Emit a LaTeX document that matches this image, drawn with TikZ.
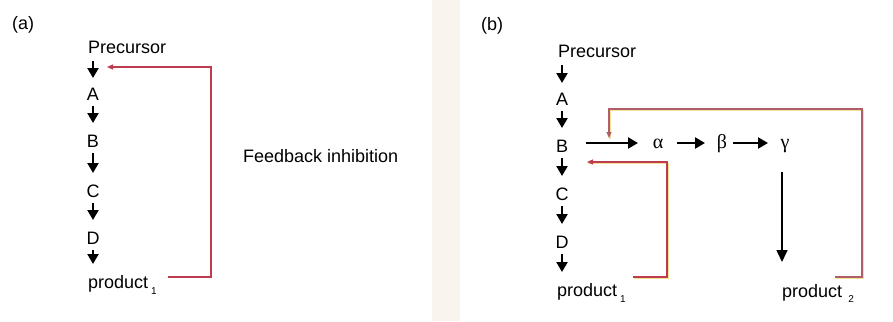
\documentclass[tikz,border=0pt]{standalone}
\usepackage{fontspec}
\setmainfont{Liberation Sans}
\newfontfamily\grkfont{Liberation Serif}
\usetikzlibrary{arrows.meta}
\definecolor{fbred}{RGB}{190,60,80}
\definecolor{fbmauve}{RGB}{175,95,105}
\definecolor{fbyel}{RGB}{242,226,150}
\definecolor{bandcol}{RGB}{249,245,238}
\begin{document}
\begin{tikzpicture}[x=1pt,y=-1pt,
  every node/.style={inner sep=0pt, font=\fontsize{18}{20}\selectfont},
  lbl/.style={anchor=base},
  lblw/.style={anchor=base west},
  grk/.style={anchor=base, font=\grkfont\fontsize{20}{20}\selectfont},
  arr/.style={line width=2.2pt, -{Triangle[length=10pt,width=11pt]}},
  arrlong/.style={line width=1.6pt, -{Triangle[length=12pt,width=11pt]}},
  inh/.style={line width=1.2pt, draw=fbred, -{Triangle[length=6pt,width=5pt]}},
  inhb/.style={line width=1.2pt, draw=fbmauve, -{Triangle[length=6pt,width=5pt]}},
  undr/.style={line width=1.1pt, draw=fbyel, transform canvas={shift={(1pt,-1.3pt)}}}]
\useasboundingbox (0,0) rectangle (893,321);
\fill[white] (0,0) rectangle (893,321);
\fill[bandcol] (432,0) rectangle (460,321);

% ---------- panel (a) ----------
\node[lblw] (la) at (12,30) {(a)};
\node[lblw] (Pa) at (88,53) {Precursor};
\node[lbl] (Aa) at (93,100) {A};
\node[lbl] (Ba) at (93,147) {B};
\node[lbl] (Ca) at (93,197) {C};
\node[lbl] (Da) at (93,244) {D};
\node[lblw] (Ra) at (88,288) {product\kern3pt\raisebox{-6pt}{\fontsize{10}{10}\selectfont 1}};
\node[lblw] (fb) at (243,162) {Feedback inhibition};

\draw[arr] ([xshift=5pt,yshift=-8pt]Pa.base west) -- ([yshift=22pt]Aa.base);
\draw[arr] ([yshift=-6pt]Aa.base) -- ([yshift=24pt]Ba.base);
\draw[arr] ([yshift=-6pt]Ba.base) -- ([yshift=24pt]Ca.base);
\draw[arr] ([yshift=-6pt]Ca.base) -- ([yshift=24pt]Da.base);
\draw[arr] ([yshift=-6pt]Da.base) -- ([xshift=5pt,yshift=24pt]Ra.base west);

\coordinate (sa) at (168,277);
\coordinate (ca1) at (211,277);
\coordinate (ca2) at (211,67);
\coordinate (ta) at (107,67);
\draw[inh] (sa) -- (ca1) -- (ca2) -- (ta);

% ---------- panel (b) ----------
\node[lblw] (lb) at (481,31) {(b)};
\node[lblw] (Pb) at (558,57) {Precursor};
\node[lbl] (Ab) at (562,105) {A};
\node[lbl] (Bb) at (562,152) {B};
\node[lbl] (Cb) at (562,200) {C};
\node[lbl] (Db) at (562,248) {D};
\node[lblw] (Rb) at (557,296) {product\kern3pt\raisebox{-6pt}{\fontsize{10}{10}\selectfont 1}};
\node[grk] (al) at (658,148) {α};
\node[grk] (be) at (722,148) {β};
\node[grk] (ga) at (785,148) {γ};
\node[lblw] (Rc) at (782,297) {product\kern6pt\raisebox{-5pt}{\fontsize{10}{10}\selectfont 2}};

\draw[arr] ([xshift=4pt,yshift=-8pt]Pb.base west) -- ([yshift=22pt]Ab.base);
\draw[arr] ([yshift=-6pt]Ab.base) -- ([yshift=24pt]Bb.base);
\draw[arr] ([yshift=-6pt]Bb.base) -- ([yshift=24pt]Cb.base);
\draw[arr] ([yshift=-6pt]Cb.base) -- ([yshift=24pt]Db.base);
\draw[arr] ([yshift=-6pt]Db.base) -- ([xshift=5pt,yshift=24pt]Rb.base west);

\draw[arr] ([xshift=24pt,yshift=9pt]Bb.base) -- ([xshift=-20pt,yshift=5pt]al.base);
\draw[arr] ([xshift=19pt,yshift=5pt]al.base) -- ([xshift=-17pt,yshift=5pt]be.base);
\draw[arr] ([xshift=11pt,yshift=5pt]be.base) -- ([xshift=-17pt,yshift=5pt]ga.base);
\draw[arrlong] ([xshift=-3pt,yshift=-24pt]ga.base) -- ([yshift=35pt]Rc.base west);

% feedback loops of (b)
\coordinate (sb) at (633,277);
\coordinate (cb1) at (667,277);
\coordinate (cb2) at (667,162);
\coordinate (tb) at (587,162);
\coordinate (sc) at (835,277);
\coordinate (cc1) at (862,277);
\coordinate (cc2) at (862,109);
\coordinate (cc3) at (609,109);
\coordinate (tc) at (609,138);
\draw[undr] (sb) -- (cb1) -- (cb2) -- (tb);
\draw[undr] (sc) -- (cc1) -- (cc2) -- (cc3) -- (tc);
\draw[inh] (sb) -- (cb1) -- (cb2) -- (tb);
\draw[inhb] (sc) -- (cc1) -- (cc2) -- (cc3) -- (tc);
\end{tikzpicture}
\end{document}
